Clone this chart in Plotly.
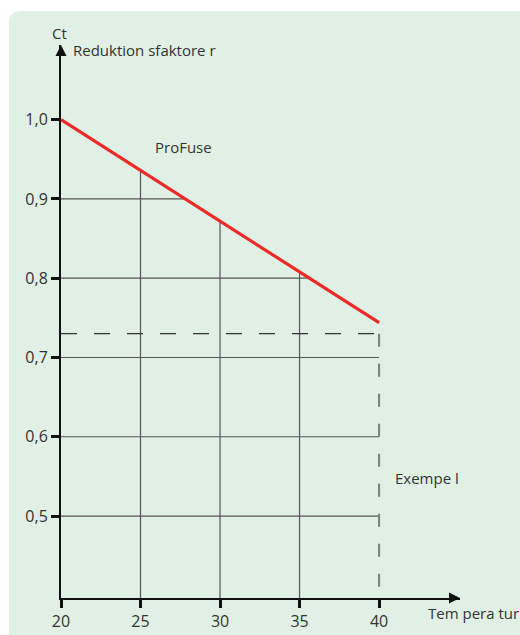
import numpy as np
import plotly.graph_objects as go

# ---- data ----
temps = [20, 25, 30, 35, 40]
ct_profuse = [1.0, 0.936, 0.872, 0.808, 0.744]
x_ticks = [20, 25, 30, 35, 40]
y_ticks = [0.5, 0.6, 0.7, 0.8, 0.9, 1.0]
example_ct = 0.73
example_temp = 40

# ---- layout geometry ----
W, H = 520, 635
ML, MR, MT, MB = 61, 60, 45, 37
x_range = [20, 45.09]
y_range = [0.3966, 1.0942]
PW, PH = W - ML - MR, H - MT - MB

def px2paper(px, py):
    return (px - ML) / PW, (H - MB - py) / PH

FONT = "Open Sans"
TXT = "#333333"
GRID = "#555555"

fig = go.Figure()

# green panel with rounded top-left corner
x0, y0 = px2paper(9, 11)
x1, y1 = px2paper(521, 640)
rx = 12 / PW
ry = 12 / PH
panel = (f"M {x0},{y0 - ry} L {x0},{y1} L {x1},{y1} L {x1},{y0} "
         f"L {x0 + rx},{y0} Q {x0},{y0} {x0},{y0 - ry} Z")
fig.add_shape(type="path", path=panel, xref="paper", yref="paper",
              fillcolor="#e0f0e5", line=dict(width=0), layer="below")

# grid lines (vertical up to the red line, horizontal out to the red line or to 40)
t_arr = np.array(temps, dtype=float)
c_arr = np.array(ct_profuse, dtype=float)
gx, gy = [], []
for t in x_ticks[1:-1]:
    gx += [t, t, None]
    gy += [y_range[0], float(np.interp(t, t_arr, c_arr)), None]
for c in y_ticks[:-1]:
    if c > c_arr.min():
        xe = float(np.interp(c, c_arr[::-1], t_arr[::-1]))
    else:
        xe = temps[-1]
    gx += [temps[0], xe, None]
    gy += [c, c, None]
fig.add_trace(go.Scatter(x=gx, y=gy, mode="lines",
                         line=dict(color=GRID, width=1.2),
                         hoverinfo="skip", showlegend=False))

# example dashed lines
fig.add_trace(go.Scatter(x=[temps[0], example_temp], y=[example_ct, example_ct],
                         mode="lines", line=dict(color="#333333", width=1.2, dash="16px,17px"),
                         hoverinfo="skip", showlegend=False))
fig.add_trace(go.Scatter(x=[example_temp, example_temp], y=[example_ct, y_range[0]],
                         mode="lines", line=dict(color="#7a7f7b", width=2, dash="13px,17px"),
                         hoverinfo="skip", showlegend=False))

# red ProFuse line
fig.add_trace(go.Scatter(x=temps, y=ct_profuse, mode="lines",
                         line=dict(color="#ec2a26", width=3.2),
                         showlegend=False))

# arrow heads at the axis ends
fig.add_trace(go.Scatter(x=[20], y=[y_range[1]], mode="markers",
                         marker=dict(symbol="arrow-up", size=11, color="#111111",
                                     line=dict(width=0)),
                         cliponaxis=False, hoverinfo="skip", showlegend=False))
fig.add_trace(go.Scatter(x=[x_range[1]], y=[y_range[0]], mode="markers",
                         marker=dict(symbol="arrow-right", size=11, color="#111111",
                                     line=dict(width=0)),
                         cliponaxis=False, hoverinfo="skip", showlegend=False))

# text labels inside the plot area (data coordinates)
def note(text, x, y):
    fig.add_annotation(x=x, y=y, xref="x", yref="y", text=text, showarrow=False,
                       xanchor="left", yanchor="middle",
                       font=dict(family=FONT, size=15, color=TXT))

# text labels outside the plot area (pixel positions -> paper)
def note_px(text, px, py):
    ax, ay = px2paper(px, py)
    fig.add_annotation(x=ax, y=ay, xref="paper", yref="paper", text=text,
                       showarrow=False, xanchor="left", yanchor="middle",
                       font=dict(family=FONT, size=15, color=TXT))

note_px("Ct", 50, 33)
note("Reduktion sfaktore r", 20.65, 1.088)
note("ProFuse", 25.8, 0.966)
note("Exempe l", 40.85, 0.548)
note_px("Tem pera tur", 426, 613)

fig.update_layout(
    width=W, height=H,
    margin=dict(l=ML, r=MR, t=MT, b=MB, pad=0),
    paper_bgcolor="white",
    plot_bgcolor="rgba(0,0,0,0)",
    separators=",.",
    font=dict(family=FONT, size=15, color=TXT),
    xaxis=dict(range=x_range, showgrid=False, zeroline=False, automargin=False,
               showline=True, linecolor="#111111", linewidth=2,
               ticks="outside", ticklen=8, tickwidth=3, tickcolor="#111111",
               tickvals=x_ticks, tickfont=dict(family=FONT, size=16, color=TXT)),
    yaxis=dict(range=y_range, showgrid=False, zeroline=False, automargin=False,
               showline=True, linecolor="#111111", linewidth=2,
               ticks="outside", ticklen=8, tickwidth=3, tickcolor="#111111",
               tickvals=y_ticks, tickformat=".1f",
               tickfont=dict(family=FONT, size=16, color=TXT)),
)

fig.write_html("out.html", config={"displayModeBar": False},
               post_script="document.body.style.margin='0';document.body.style.overflow='hidden';")
